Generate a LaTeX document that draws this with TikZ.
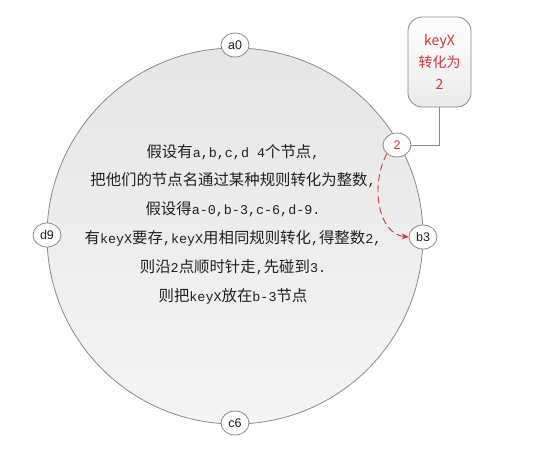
\documentclass[tikz,border=0pt]{standalone}
\usepackage{fontspec}
\setmainfont{Liberation Sans}
\newfontfamily\cjk{Noto Sans CJK SC}
\newfontfamily\lat{Liberation Mono}
\newcommand{\hw}[1]{{\lat\fontsize{13.4}{28.8}\selectfont #1}}
\usetikzlibrary{shapes.geometric,arrows.meta}
\definecolor{ringgray}{HTML}{8A8A8A}
\definecolor{keyred}{HTML}{D0343A}
\definecolor{txtdark}{HTML}{202020}
\tikzset{
  ring/.style={circle, draw=ringgray, line width=0.8pt, top color=black!10, bottom color=black!4, minimum size=376pt, inner sep=0pt},
  ringnode/.style={ellipse, draw=ringgray, line width=0.8pt, fill=white, minimum width=28pt, minimum height=24pt, inner sep=0pt, font=\fontsize{12.5}{12.5}\selectfont, text=txtdark},
  keybox/.style={rectangle, rounded corners=14pt, draw=ringgray, line width=0.8pt, top color=white, bottom color=black!8, minimum width=63pt, minimum height=90pt, align=center, text=keyred, font=\cjk\fontsize{14}{22}\selectfont},
  bodytext/.style={align=center, text=txtdark, font=\cjk\fontsize{15.4}{28.8}\selectfont},
  link/.style={draw=ringgray, line width=0.8pt},
  movearrow/.style={draw=keyred, line width=0.9pt, dash pattern=on 7pt off 4pt, -{Stealth[length=7pt,width=6pt]}}
}
\begin{document}
\begin{tikzpicture}[x=1pt,y=-1pt]
\useasboundingbox (0,0) rectangle (534,458);
\node[ring] (ring) at (235,236) {};
\node[ringnode] (a0) at (235,45) {a0};
\node[ringnode] (b3) at (423,237) {b3};
\node[ringnode] (c6) at (235,423) {c6};
\node[ringnode] (d9) at (47,235) {d9};
\node[ringnode, text=keyred] (k2) at (397,145) {2};
\node[keybox] (kb) at (439.5,62) {keyX\\转化为\\2};
\node[bodytext] (txt) at (233,224) {假设有\hw{a,b,c,d 4}个节点\hw{,}\\把他们的节点名通过某种规则转化为整数\hw{,}\\假设得\hw{a-0,b-3,c-6,d-9.}\\有\hw{keyX}要存\hw{,keyX}用相同规则转化\hw{,}得整数\hw{2,}\\则沿\hw{2}点顺时针走\hw{,}先碰到\hw{3.}\\则把\hw{keyX}放在\hw{b-3}节点};
\coordinate (bend) at (kb.south |- k2);
\draw[link] (kb.south) -- (bend) -- (k2.east);
\draw[movearrow] (k2.south west) .. controls (370,185) and (378,234) .. (b3.west);
\end{tikzpicture}
\end{document}
